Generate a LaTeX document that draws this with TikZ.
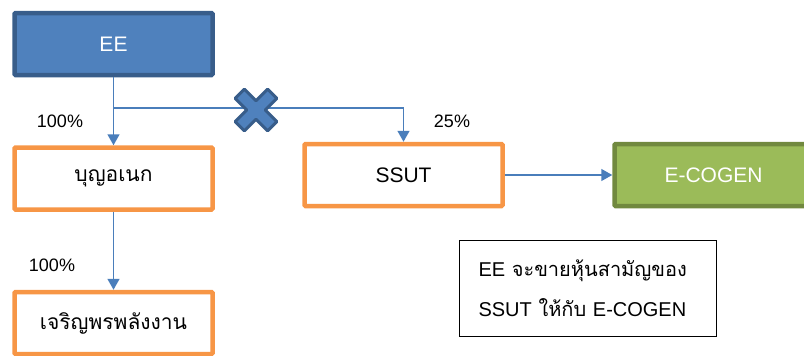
\documentclass[tikz,border=0pt]{standalone}
\usepackage{fontspec}
\setmainfont{Liberation Sans}
\newfontfamily\thaifont[Script=Thai]{Loma}
\usepackage{tikz}
\usetikzlibrary{calc,arrows.meta}
\definecolor{eeblue}{HTML}{4F81BD}
\definecolor{eedark}{HTML}{385D8A}
\definecolor{boxorange}{HTML}{F79646}
\definecolor{cogreen}{HTML}{9BBB59}
\definecolor{codark}{HTML}{71893F}
\definecolor{linkblue}{HTML}{4A7EBB}
\tikzset{
  company/.style={draw=boxorange, line width=4.5pt, fill=white, rounded corners=1pt,
    minimum width=198pt, minimum height=62pt, inner sep=0pt,
    font=\fontsize{21}{24}\selectfont},
  link/.style={draw=linkblue, line width=1.5pt, -{Triangle[length=11pt,width=12pt]}},
  share/.style={font=\fontsize{18}{21}\selectfont}
}

\begin{document}
\begin{tikzpicture}[x=1pt,y=-1pt]
\useasboundingbox (0,0) rectangle (804,356);
\node[company, draw=eedark, fill=eeblue, text=white] (ee) at (113.5,44) {EE};
\node[company] (bun) at (113.5,178.5) {\thaifont บุญอเนก};
\node[company] (ssut) at (403.5,175) {SSUT};
\node[company, draw=codark, fill=cogreen, text=white] (cogen) at (713.5,175) {E-COGEN};
\node[company] (jar) at (113.5,323) {\thaifont เจริญพรพลังงาน};
\node[draw, line width=1pt, minimum width=257pt, minimum height=96pt, align=left,
  inner xsep=19pt, text width=219pt, font=\fontsize{20}{40}\selectfont] (note) at (588,288)
  {EE {\thaifont จะขายหุ้นสามัญของ}\\SSUT {\thaifont ให้กับ} E-COGEN};
\coordinate (split) at (113.5,108);
\draw[link] (ee.south) -- (bun.north);
\draw[link] (split) -| (ssut.north);
\draw[link] (bun.south) -- (jar.north);
\draw[link] (ssut.east) -- (cogen.west);
% cancelled sale
\draw[draw=eedark, fill=eeblue, line width=3pt, line join=round, shift={(256,110)}, rotate=45]
  (6.5,23) -- (6.5,6.5) -- (23,6.5) -- (23,-6.5) -- (6.5,-6.5) -- (6.5,-23) -- (-6.5,-23) -- (-6.5,-6.5)
  -- (-23,-6.5) -- (-23,6.5) -- (-6.5,6.5) -- (-6.5,23) -- cycle;
\node[share] (p1) at (60,121) {100\%};
\node[share] (p2) at (452,121) {25\%};
\node[share] (p3) at (52,265) {100\%};
\end{tikzpicture}
\end{document}
